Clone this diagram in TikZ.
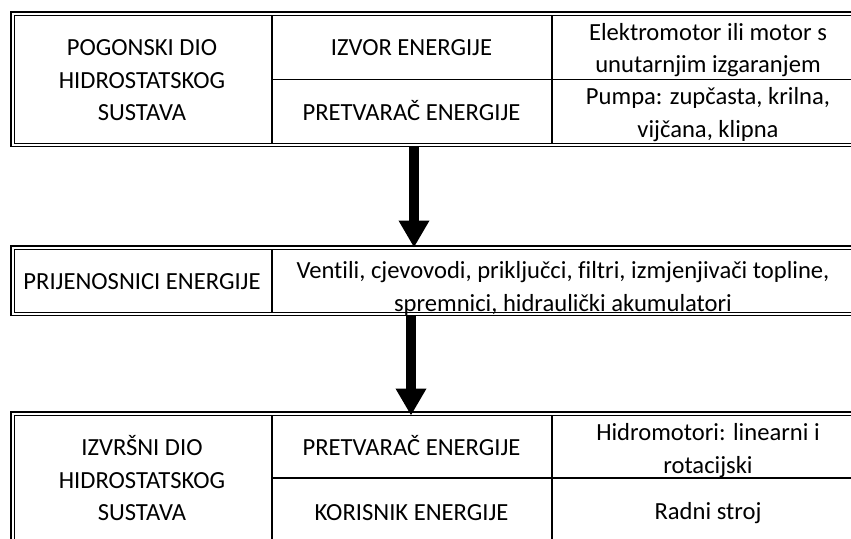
\documentclass[tikz,border=0pt]{standalone}
\usepackage{fontspec}
\setmainfont{Carlito}[Ligatures={NoCommon}]
\usetikzlibrary{arrows.meta}
\begin{document}
\begin{tikzpicture}[x=1pt,y=-1pt,
  txt/.style={align=center, font=\fontsize{24.6}{32.5}\selectfont, inner sep=0pt},
  outerl/.style={line width=1.6pt},
  innerl/.style={line width=1pt},
  gridl/.style={line width=1.3pt},
  bigarrow/.style={line width=9.5pt, -{Triangle[width=29pt,length=27pt]}}]
\useasboundingbox (0,0) rectangle (851,538);
\clip (0,0) rectangle (851,538);
% ---------- table 1 ----------
\draw[outerl] (870,12) -- (11,12) -- (11,146.5) -- (870,146.5);
\draw[innerl] (870,15.3) -- (14.3,15.3) -- (14.3,143.2) -- (870,143.2);
\draw[gridl] (272,15.3) -- (272,143.2);
\draw[gridl] (552,15.3) -- (552,143.2);
\draw[gridl] (272,79.5) -- (870,79.5);
\node[txt] (a1) at (142,81.5) {\strut POGONSKI DIO\\\strut HIDROSTATSKOG\\\strut SUSTAVA};
\node[txt] (a2) at (411.5,49.25) {\strut IZVOR ENERGIJE};
\node[txt] (a3) at (411.5,114.25) {\strut PRETVARAČ ENERGIJE};
\node[txt] (a4) at (708,50) {\strut Elektromotor ili motor s\\\strut unutarnjim izgaranjem};
\node[txt] (a5) at (708,114.5) {\strut Pumpa: zupčasta, krilna,\\\strut vijčana, klipna};
% ---------- table 2 ----------
\draw[outerl] (870,246) -- (11,246) -- (11,315.5) -- (870,315.5);
\draw[innerl] (870,249.3) -- (14.3,249.3) -- (14.3,312.2) -- (870,312.2);
\draw[gridl] (272,249.3) -- (272,312.2);
\node[txt] (b1) at (142,282.75) {\strut PRIJENOSNICI ENERGIJE};
\node[txt] (b2) at (563,288.5) {\strut Ventili, cjevovodi, priključci, filtri, izmjenjivači topline,\\\strut spremnici, hidraulički akumulatori};
% ---------- table 3 ----------
\draw[outerl] (870,412) -- (11,412) -- (11,560);
\draw[innerl] (870,415.3) -- (14.3,415.3) -- (14.3,560);
\draw[gridl] (272,415.3) -- (272,560);
\draw[gridl] (552,415.3) -- (552,560);
\draw[gridl] (272,478) -- (870,478);
\node[txt] (c1) at (142,481.75) {\strut IZVRŠNI DIO\\\strut HIDROSTATSKOG\\\strut SUSTAVA};
\node[txt] (c2) at (411.5,449.25) {\strut PRETVARAČ ENERGIJE};
\node[txt] (c3) at (411.5,514.25) {\strut KORISNIK ENERGIJE};
\node[txt] (c4) at (708,450.5) {\strut Hidromotori: linearni i\\\strut rotacijski};
\node[txt] (c5) at (708,513.25) {\strut Radni stroj};
% ---------- arrows ----------
\coordinate (t1b) at (414,146.5);
\coordinate (t2t) at (414,247.5);
\coordinate (t2b) at (411,315.5);
\coordinate (t3t) at (411,415.5);
\draw[bigarrow] (t1b) -- (t2t);
\draw[bigarrow] (t2b) -- (t3t);
\end{tikzpicture}
\end{document}
